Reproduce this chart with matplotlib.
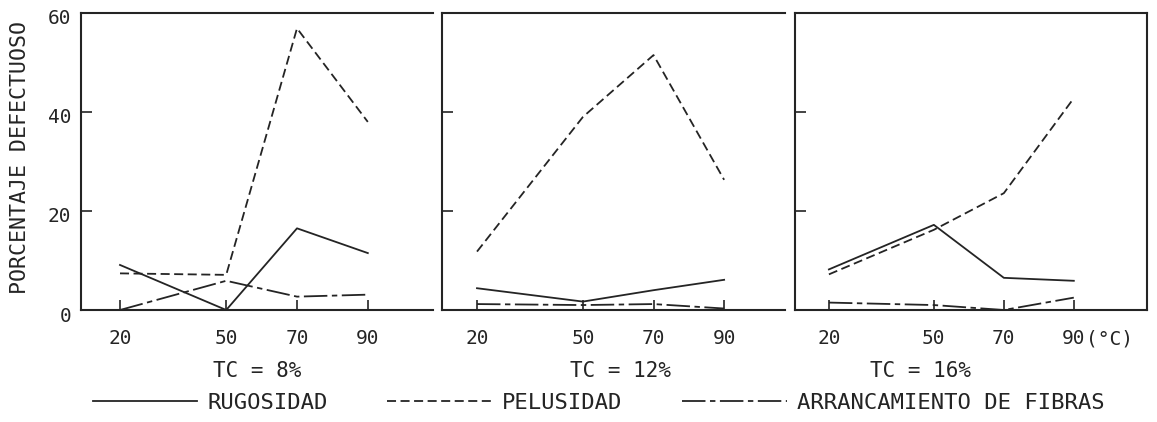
import numpy as np
import matplotlib
matplotlib.use('Agg')
import matplotlib.pyplot as plt
from matplotlib.transforms import ScaledTranslation

# temperaturas de ensayo (grados C)
temps = [20, 50, 70, 90]

# porcentaje defectuoso, una lista por defecto y por TC
rug_8 = [9.1, 0.0, 16.5, 11.5]
pel_8 = [7.4, 7.1, 56.9, 38.0]
arr_8 = [0.0, 5.9, 2.7, 3.1]

rug_12 = [4.4, 1.7, 4.0, 6.1]
pel_12 = [11.8, 39.0, 51.5, 26.3]
arr_12 = [1.2, 1.0, 1.2, 0.3]

rug_16 = [8.2, 17.2, 6.5, 5.9]
pel_16 = [7.2, 16.2, 23.6, 42.8]
arr_16 = [1.5, 1.0, 0.0, 2.5]

panel_titles = ['TC = 8%', 'TC = 12%', 'TC = 16%']
series_names = ['RUGOSIDAD', 'PELUSIDAD', 'ARRANCAMIENTO DE FIBRAS']

plt.rcParams['font.family'] = ['DejaVu Sans Mono']
ink = '#242424'
styles = ['-', (0, (5, 2.5)), (0, (13, 2.5, 3, 2.5))]

fig = plt.figure(figsize=(11.57, 4.22), dpi=100)

# posiciones de los paneles (fraccion de figura)
boxes = [[0.0700, 0.2654, 0.3042, 0.7038],
         [0.3820, 0.2654, 0.2965, 0.7038],
         [0.6871, 0.2654, 0.3042, 0.7038]]
xlims = [(8.98, 108.4), (10.08, 107.25), (10.3, 110.9)]
data = [(rug_8, pel_8, arr_8), (rug_12, pel_12, arr_12), (rug_16, pel_16, arr_16)]
title_x = [0.2221, 0.5359, 0.7952]

handles = []
for i in range(3):
    ax = fig.add_axes(boxes[i])
    for j, ys in enumerate(data[i]):
        ln, = ax.plot(temps, ys, color=ink, lw=1.3, linestyle=styles[j])
        if i == 0:
            handles.append(ln)
    ax.set_xlim(*xlims[i])
    ax.set_ylim(0, 60)
    ax.set_xticks(temps)
    ax.set_xticklabels([str(t) for t in temps])
    ax.set_yticks([0, 20, 40, 60])
    ax.tick_params(axis='x', direction='in', length=7, width=1.2, pad=14,
                   labelsize=14, colors=ink)
    ax.tick_params(axis='y', direction='in', length=8, width=1.2, pad=7,
                   labelsize=14, colors=ink)
    if i > 0:
        ax.set_yticklabels([])
    else:
        # etiquetas del eje y un poco por debajo de la marca
        for lab in ax.get_yticklabels():
            lab.set_transform(lab.get_transform() +
                              ScaledTranslation(0, -0.04, fig.dpi_scale_trans))
    for sp in ax.spines.values():
        sp.set_linewidth(1.5)
        sp.set_color(ink)
    if i < 2:
        ax.spines['right'].set_visible(False)
    if i == 2:
        ax.annotate('(°C)', xy=(90, 0), xycoords=ax.get_xaxis_transform(),
                    xytext=(8.5, -14), textcoords='offset points',
                    ha='left', va='top', fontsize=14, color=ink)
    fig.text(title_x[i], 0.12, panel_titles[i], ha='center', va='center',
             fontsize=15, color=ink)

fig.text(0.0173, 0.626, 'PORCENTAJE DEFECTUOSO', rotation=90,
         ha='center', va='center', fontsize=15.5, color=ink)

fig.legend(handles, series_names, ncol=3, loc='center left',
           bbox_to_anchor=(0.080, 0.045), frameon=False, fontsize=16,
           handlelength=4.7, handletextpad=0.45, columnspacing=2.7,
           borderpad=0, borderaxespad=0, labelcolor=ink)

fig.savefig('out.png', dpi=100)
